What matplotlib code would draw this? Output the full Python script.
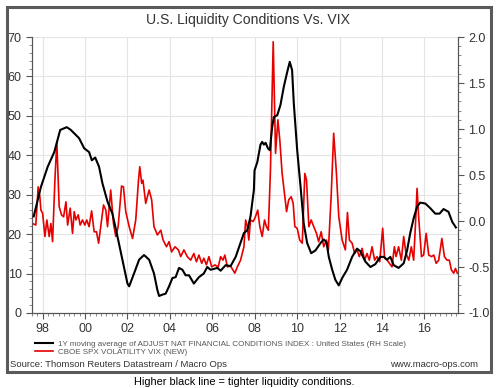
import matplotlib.pyplot as plt
from matplotlib.patches import Rectangle

plt.rcParams['font.family'] = ['Liberation Sans', 'DejaVu Sans']

# VIX (left scale)
vix_year = [1997.53, 1997.68, 1997.79, 1997.87, 1997.92, 1998.00, 1998.11, 1998.20, 1998.31, 1998.39,
            1998.47, 1998.58, 1998.67, 1998.78, 1998.89, 1998.99, 1999.10, 1999.18, 1999.30, 1999.41,
            1999.49, 1999.57, 1999.68, 1999.77, 1999.88, 1999.99, 2000.08, 2000.19, 2000.31, 2000.43,
            2000.54, 2000.64, 2000.74, 2000.87, 2000.98, 2001.06, 2001.21, 2001.34, 2001.45, 2001.56,
            2001.72, 2001.81, 2001.92, 2002.08, 2002.24, 2002.39, 2002.52, 2002.58, 2002.67, 2002.73,
            2002.86, 2003.02, 2003.14, 2003.25, 2003.41, 2003.57, 2003.68, 2003.84, 2003.96, 2004.08,
            2004.24, 2004.40, 2004.51, 2004.66, 2004.82, 2004.98, 2005.13, 2005.25, 2005.37, 2005.50,
            2005.60, 2005.72, 2005.84, 2005.97, 2006.12, 2006.28, 2006.39, 2006.50, 2006.59, 2006.71,
            2006.86, 2007.06, 2007.18, 2007.33, 2007.49, 2007.57, 2007.65, 2007.72, 2007.80, 2007.93,
            2008.03, 2008.14, 2008.24, 2008.35, 2008.46, 2008.55, 2008.64, 2008.74, 2008.87, 2008.98,
            2009.09, 2009.18, 2009.29, 2009.40, 2009.50, 2009.60, 2009.72, 2009.81, 2009.89, 2010.00,
            2010.12, 2010.24, 2010.36, 2010.44, 2010.55, 2010.66, 2010.78, 2010.91, 2011.01, 2011.13,
            2011.25, 2011.38, 2011.47, 2011.60, 2011.72, 2011.85, 2011.96, 2012.12, 2012.27, 2012.37,
            2012.46, 2012.59, 2012.71, 2012.82, 2012.93, 2013.06, 2013.18, 2013.29, 2013.40, 2013.53,
            2013.65, 2013.76, 2013.89, 2014.03, 2014.12, 2014.24, 2014.35, 2014.47, 2014.58, 2014.66,
            2014.78, 2014.91, 2015.02, 2015.13, 2015.26, 2015.38, 2015.49, 2015.57, 2015.65, 2015.73,
            2015.86, 2015.96, 2016.08, 2016.20, 2016.33, 2016.44, 2016.55, 2016.67, 2016.82, 2016.94,
            2017.06, 2017.17, 2017.27, 2017.38, 2017.46, 2017.55]
vix = [22.7, 22.3, 32.0, 29.5, 26.1, 25.3, 19.4, 23.6, 19.4, 22.7,
       18.1, 33.7, 43.4, 27.0, 24.9, 24.4, 28.2, 22.3, 26.6, 20.2,
       25.7, 23.6, 24.9, 22.3, 23.6, 22.3, 23.6, 21.9, 25.9, 20.6,
       20.6, 17.7, 21.9, 27.4, 26.1, 21.9, 31.2, 22.7, 19.4, 21.9,
       32.2, 32.0, 25.7, 21.9, 18.9, 23.6, 33.7, 37.1, 32.9, 33.7,
       27.8, 31.2, 28.7, 21.9, 19.8, 21.0, 18.5, 16.8, 18.1, 15.5,
       16.8, 16.0, 14.3, 16.0, 14.3, 13.4, 15.1, 13.0, 14.7, 12.6,
       13.9, 12.2, 14.3, 11.7, 12.2, 11.7, 14.3, 13.4, 14.7, 11.7,
       11.9, 10.1, 11.7, 13.4, 16.8, 23.6, 21.9, 18.5, 23.6, 23.2,
       24.4, 26.1, 21.9, 19.4, 23.6, 21.9, 21.0, 36.3, 68.8, 40.5,
       49.0, 43.9, 35.4, 30.4, 25.7, 28.7, 29.5, 27.8, 21.9, 21.5,
       18.5, 17.7, 35.4, 33.7, 21.9, 23.6, 21.9, 20.2, 18.1, 20.6,
       16.8, 18.5, 16.0, 29.5, 45.6, 35.4, 24.4, 18.5, 16.0, 25.5,
       18.5, 17.7, 15.1, 16.0, 14.3, 16.4, 13.4, 15.1, 13.4, 16.8,
       13.4, 14.3, 13.0, 21.5, 13.9, 13.4, 12.6, 11.7, 16.8, 14.3,
       16.8, 13.4, 19.4, 15.1, 13.4, 16.8, 13.4, 21.9, 31.6, 24.0,
       14.3, 14.7, 20.2, 14.7, 14.3, 14.7, 12.6, 13.4, 18.9, 14.3,
       13.4, 13.4, 10.9, 10.1, 11.3, 10.1]

# 1Y moving average of adjusted NFCI (right scale)
nfci_year = [1997.58, 1997.92, 1998.24, 1998.55, 1998.83, 1999.14, 1999.33, 1999.72, 1999.96, 2000.19,
             2000.32, 2000.48, 2000.66, 2000.82, 2001.06, 2001.29, 2001.53, 2001.76, 2002.00, 2002.08,
             2002.31, 2002.55, 2002.78, 2003.02, 2003.25, 2003.41, 2003.49, 2003.65, 2003.80, 2003.96,
             2004.12, 2004.27, 2004.43, 2004.59, 2004.74, 2004.90, 2005.13, 2005.37, 2005.60, 2005.76,
             2005.92, 2006.24, 2006.39, 2006.63, 2006.86, 2007.10, 2007.34, 2007.49, 2007.65, 2007.80,
             2007.96, 2007.99, 2008.12, 2008.27, 2008.35, 2008.43, 2008.51, 2008.62, 2008.71, 2008.82,
             2008.90, 2009.06, 2009.21, 2009.37, 2009.53, 2009.65, 2009.76, 2009.84, 2010.00, 2010.16,
             2010.31, 2010.47, 2010.66, 2010.86, 2011.10, 2011.25, 2011.38, 2011.49, 2011.65, 2011.80,
             2011.96, 2012.12, 2012.35, 2012.59, 2012.82, 2012.98, 2013.21, 2013.45, 2013.68, 2013.92,
             2014.08, 2014.24, 2014.39, 2014.55, 2014.78, 2015.02, 2015.18, 2015.33, 2015.49, 2015.65,
             2015.80, 2016.04, 2016.27, 2016.51, 2016.71, 2016.90, 2017.13, 2017.31, 2017.48]
nfci = [0.05, 0.37, 0.59, 0.75, 0.99, 1.02, 0.99, 0.90, 0.79, 0.75,
        0.66, 0.69, 0.59, 0.41, 0.21, 0.08, -0.17, -0.42, -0.68, -0.71,
        -0.57, -0.42, -0.37, -0.42, -0.57, -0.75, -0.815, -0.80, -0.79, -0.71,
        -0.62, -0.61, -0.51, -0.53, -0.59, -0.59, -0.68, -0.61, -0.57, -0.50,
        -0.53, -0.51, -0.54, -0.48, -0.49, -0.39, -0.23, -0.13, -0.10, 0.05,
        0.34, 0.55, 0.64, 0.83, 0.86, 0.83, 0.85, 0.79, 0.77, 1.02,
        1.13, 1.15, 1.26, 1.46, 1.62, 1.73, 1.64, 1.28, 0.77, 0.37,
        -0.03, -0.24, -0.35, -0.32, -0.24, -0.20, -0.23, -0.39, -0.53, -0.64,
        -0.70, -0.62, -0.53, -0.39, -0.30, -0.33, -0.44, -0.50, -0.47, -0.39,
        -0.39, -0.42, -0.39, -0.48, -0.51, -0.46, -0.32, -0.13, 0.03, 0.155,
        0.20, 0.19, 0.14, 0.08, 0.08, 0.13, 0.10, -0.01, -0.07]

year_ticks = [1998, 2000, 2002, 2004, 2006, 2008, 2010, 2012, 2014, 2016]
year_labels = ['98', '00', '02', '04', '06', '08', '10', '12', '14', '16']

fig = plt.figure(figsize=(5, 3.88), dpi=100)
ax = fig.add_axes([0.064, 0.1933, 0.852, 0.7113])
ax2 = ax.twinx()

ax.plot(vix_year, vix, color='#e60000', lw=1.2, zorder=2)
ax2.plot(nfci_year, nfci, color='black', lw=1.5, zorder=3)

ax.set_xlim(1997.5, 2017.58)
ax.set_ylim(0, 70)
ax2.set_ylim(-1.0, 2.0)

ax.set_xticks(year_ticks)
ax.set_xticklabels(year_labels)
ax.set_xticks([y + q * 0.25 for y in range(1997, 2018) for q in range(4)
               if 1997.5 <= y + q * 0.25 <= 2017.58], minor=True)
ax.set_yticks(range(0, 71, 10))
ax.set_yticks(range(0, 71, 2), minor=True)
ax2.set_yticks([-1.0, -0.5, 0.0, 0.5, 1.0, 1.5, 2.0])
ax2.set_yticklabels(['-1.0', '-0.5', '0.0', '0.5', '1.0', '1.5', '2.0'])
ax2.set_yticks([-1.0 + i * 0.1 for i in range(31)], minor=True)

ax.grid(True, which='major', color='#e4e4e4', lw=0.8)
ax.set_axisbelow(True)

for a in (ax, ax2):
    a.spines['top'].set_visible(False)
    for s in a.spines.values():
        s.set_color('#555555')
        s.set_linewidth(0.8)
ax.tick_params(axis='both', which='major', labelsize=9, colors='#555555', labelcolor='#333333', length=4, width=0.8)
ax.tick_params(axis='both', which='minor', colors='#777777', length=2, width=0.6)
ax.tick_params(axis='x', which='both', pad=3)
ax2.tick_params(axis='y', which='major', labelsize=9, colors='#555555', labelcolor='#333333', length=4, width=0.8)
ax2.tick_params(axis='y', which='minor', colors='#777777', length=2, width=0.6)

fig.text(0.496, 0.948, 'U.S. Liquidity Conditions Vs. VIX', ha='center', va='center', fontsize=10.1, color='#333333')

h2, = ax2.get_lines()
h1, = ax.get_lines()
fig.legend([h2, h1],
           ['1Y moving average of ADJUST NAT FINANCIAL CONDITIONS INDEX : United States (RH Scale)',
            'CBOE SPX VOLATILITY VIX (NEW)'],
           loc='upper left', bbox_to_anchor=(0.058, 0.138), frameon=False, fontsize=5.8,
           handlelength=2.3, handletextpad=0.6, labelspacing=0.05, borderpad=0.2, labelcolor='#555555')

fig.text(0.02, 0.06, 'Source: Thomson Reuters Datastream / Macro Ops', ha='left', va='center', fontsize=6.8, color='#333333')
fig.text(0.957, 0.06, 'www.macro-ops.com', ha='right', va='center', fontsize=6.8, color='#333333')

fig.patches.append(Rectangle((0.014, 0.041), 0.967, 0.941, transform=fig.transFigure,
                             fill=False, edgecolor='#5a5a5a', lw=2.2))

fig.text(0.488, 0.015, 'Higher black line = tighter liquidity conditions.', ha='center', va='center', fontsize=7.9, color='black')

fig.savefig('out.png', dpi=100)
